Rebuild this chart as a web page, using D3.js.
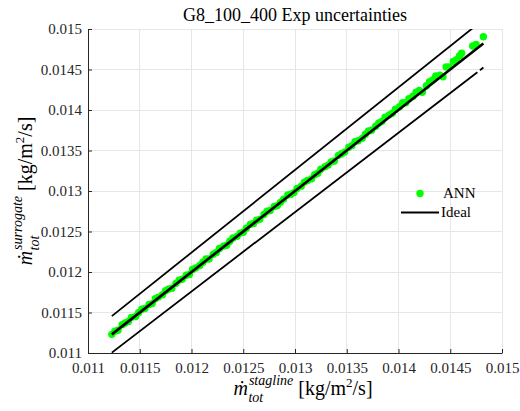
<!DOCTYPE html>
<html>
<head>
<meta charset="utf-8">
<script src="https://cdn.jsdelivr.net/npm/d3@7"></script>
</head>
<body style="margin:0">
<svg id="chart" width="520" height="411" font-family="Liberation Serif"></svg>
<script>
// Mass-flux comparison: stagnation-line reference vs. ANN surrogate (kg/m^2/s)
const chartTitle = "G8_100_400 Exp uncertainties";

const staglineValues = [
  0.01123, 0.01126, 0.01129, 0.01133, 0.01136, 0.01139, 0.01142, 0.01146, 0.01149, 0.01152,
  0.01155, 0.01159, 0.01162, 0.01165, 0.01168, 0.01172, 0.01175, 0.01178, 0.01181, 0.01185,
  0.01188, 0.01191, 0.01195, 0.01198, 0.01201, 0.01204, 0.01208, 0.01211, 0.01214, 0.01217,
  0.01221, 0.01224, 0.01227, 0.01231, 0.01234, 0.01237, 0.01240, 0.01244, 0.01247, 0.01250,
  0.01253, 0.01257, 0.01260, 0.01263, 0.01266, 0.01270, 0.01273, 0.01276, 0.01280, 0.01283,
  0.01286, 0.01289, 0.01293, 0.01296, 0.01299, 0.01302, 0.01306, 0.01309, 0.01312, 0.01316,
  0.01319, 0.01322, 0.01325, 0.01329, 0.01332, 0.01335, 0.01338, 0.01342, 0.01345, 0.01348,
  0.01352, 0.01355, 0.01358, 0.01361, 0.01365, 0.01368, 0.01371, 0.01374, 0.01378, 0.01381,
  0.01384, 0.01387, 0.01391, 0.01394, 0.01397, 0.01401, 0.01404, 0.01407, 0.01410, 0.01414,
  0.01417, 0.01420, 0.01423, 0.01427, 0.01430, 0.01433, 0.01436, 0.01440, 0.01443, 0.01446,
  0.01449, 0.01453, 0.01456, 0.01459, 0.01461, 0.014717, 0.01475, 0.01482
];

const surrogateValues = [
  0.01123, 0.01127, 0.01128, 0.01135, 0.01137, 0.01139, 0.01144, 0.01145, 0.01150, 0.01154,
  0.01155, 0.01160, 0.01161, 0.01167, 0.01169, 0.01172, 0.01177, 0.01179, 0.01180, 0.01186,
  0.01190, 0.01191, 0.01196, 0.01197, 0.01203, 0.01205, 0.01208, 0.01212, 0.01216, 0.01216,
  0.01222, 0.01224, 0.01229, 0.01232, 0.01233, 0.01238, 0.01242, 0.01244, 0.01248, 0.01249,
  0.01254, 0.01259, 0.01260, 0.01264, 0.01265, 0.01271, 0.01275, 0.01276, 0.01281, 0.01282,
  0.01286, 0.01290, 0.01295, 0.01296, 0.01298, 0.01303, 0.01306, 0.01311, 0.01313, 0.01315,
  0.01320, 0.01322, 0.01327, 0.01330, 0.01332, 0.01336, 0.01337, 0.01344, 0.01346, 0.01348,
  0.01354, 0.01356, 0.01361, 0.01362, 0.01365, 0.01370, 0.01374, 0.01375, 0.01380, 0.01384,
  0.01386, 0.01391, 0.01394, 0.01396, 0.01401, 0.01404, 0.01409, 0.01409, 0.01414, 0.01417,
  0.01422, 0.01424, 0.01422, 0.01430, 0.01435, 0.01437, 0.01442, 0.01443, 0.01441, 0.01453,
  0.01453, 0.01460, 0.01462, 0.01467, 0.01470, 0.01479, 0.01481, 0.014905
];

// Reference lines: ideal y = x and the +/-2 % band
const idealX = [0.01123, 0.01482];
const idealY = [0.01123, 0.01482];
const upperX = [0.01123, 0.01482];
const upperY = [0.011455, 0.015116];
const lowerX = [0.01123, 0.014762, 0.014787, 0.01482];
const lowerY = [0.011005, 0.014467, 0.014491, 0.014524];
const lowerSegmentBreaks = [2]; // index where the lower band line is split

const xTicks = [0.011, 0.0115, 0.012, 0.0125, 0.013, 0.0135, 0.014, 0.0145, 0.015];
const xTickLabels = ["0.011", "0.0115", "0.012", "0.0125", "0.013", "0.0135", "0.014", "0.0145", "0.015"];
const yTicks = [0.011, 0.0115, 0.012, 0.0125, 0.013, 0.0135, 0.014, 0.0145, 0.015];
const yTickLabels = ["0.011", "0.0115", "0.012", "0.0125", "0.013", "0.0135", "0.014", "0.0145", "0.015"];

const legendLabels = ["ANN", "Ideal"];

const FONT = "Liberation Serif";
const svg = d3.select("#chart");
const plot = { left: 88, right: 502, top: 29, bottom: 353 };

const x = d3.scaleLinear().domain([0.011, 0.015]).range([plot.left, plot.right]);
const y = d3.scaleLinear().domain([0.011, 0.015]).range([plot.bottom, plot.top]);

const green = "#00ff00";
const axisColor = "#262626";
const gridColor = "#e6e6e6";

svg.append("defs").append("clipPath").attr("id", "plotClip")
  .append("rect")
  .attr("x", plot.left).attr("y", plot.top)
  .attr("width", plot.right - plot.left).attr("height", plot.bottom - plot.top);

// Grid
const grid = svg.append("g");
grid.selectAll("line.gx").data(xTicks.slice(1)).join("line")
  .attr("x1", d => x(d)).attr("x2", d => x(d))
  .attr("y1", plot.top).attr("y2", plot.bottom)
  .attr("stroke", gridColor).attr("stroke-width", 1).attr("shape-rendering", "crispEdges");
grid.selectAll("line.gy").data(yTicks.slice(1)).join("line")
  .attr("y1", d => y(d)).attr("y2", d => y(d))
  .attr("x1", plot.left).attr("x2", plot.right)
  .attr("stroke", gridColor).attr("stroke-width", 1).attr("shape-rendering", "crispEdges");

// Data layer
const layer = svg.append("g").attr("clip-path", "url(#plotClip)");

const points = staglineValues.map((v, i) => [v, surrogateValues[i]]);
layer.selectAll("circle").data(points).join("circle")
  .attr("cx", d => x(d[0])).attr("cy", d => y(d[1]))
  .attr("r", 3.7).attr("fill", green);

const line = d3.line().x(d => x(d[0])).y(d => y(d[1]));

layer.append("path")
  .attr("d", line(upperX.map((v, i) => [v, upperY[i]])))
  .attr("fill", "none").attr("stroke", "#000").attr("stroke-width", 1.8);

const lowerPts = lowerX.map((v, i) => [v, lowerY[i]]);
let start = 0;
[...lowerSegmentBreaks, lowerPts.length].forEach(end => {
  layer.append("path")
    .attr("d", line(lowerPts.slice(start, end)))
    .attr("fill", "none").attr("stroke", "#000").attr("stroke-width", 1.8);
  start = end;
});

layer.append("path")
  .attr("d", line(idealX.map((v, i) => [v, idealY[i]])))
  .attr("fill", "none").attr("stroke", "#000").attr("stroke-width", 2.6);

// Axes (left and bottom only, ticks pointing inward)
const xAxis = d3.axisBottom(x).tickValues(xTicks).tickSizeInner(-4).tickSizeOuter(0)
  .tickFormat((d, i) => xTickLabels[i]);
const gx = svg.append("g").attr("transform", `translate(0,${plot.bottom})`).call(xAxis)
  .attr("font-family", FONT).attr("font-size", 15);
gx.select(".domain").attr("stroke", axisColor).attr("stroke-width", 1);
gx.selectAll(".tick line").attr("stroke", axisColor);
gx.selectAll(".tick text").attr("font-family", FONT).attr("font-size", 15)
  .attr("fill", axisColor).attr("y", 9).attr("dy", "0.71em");

const yAxis = d3.axisLeft(y).tickValues(yTicks).tickSizeInner(-4).tickSizeOuter(0)
  .tickFormat((d, i) => yTickLabels[i]);
const gy = svg.append("g").attr("transform", `translate(${plot.left},0)`).call(yAxis)
  .attr("font-family", FONT).attr("font-size", 15);
gy.select(".domain").attr("stroke", axisColor).attr("stroke-width", 1);
gy.selectAll(".tick line").attr("stroke", axisColor);
gy.selectAll(".tick text").attr("font-family", FONT).attr("font-size", 15)
  .attr("fill", axisColor).attr("x", -6);

// Title
svg.append("text")
  .attr("x", (plot.left + plot.right) / 2).attr("y", 21)
  .attr("text-anchor", "middle").attr("fill", "#000")
  .attr("font-family", FONT).attr("font-size", 18)
  .text(chartTitle);

// Axis label builder: m-dot with stacked super/subscript then units
function massFluxLabel(g, sup) {
  const big = 20, small = 14;
  const t = sel => sel.attr("font-family", FONT).attr("fill", "#000");
  const m = t(g.append("text")).attr("x", 0).attr("y", 0)
    .attr("font-size", big).attr("font-style", "italic").text("ṁ");
  const mw = m.node().getComputedTextLength();
  const s = t(g.append("text")).attr("x", mw + 1).attr("y", -10)
    .attr("font-size", small).attr("font-style", "italic").text(sup);
  const b = t(g.append("text")).attr("x", mw + 0.5).attr("y", 7)
    .attr("font-size", small).attr("font-style", "italic").text("tot");
  const w = Math.max(s.node().getComputedTextLength(), b.node().getComputedTextLength());
  const u = t(g.append("text")).attr("x", mw + w + 6).attr("y", 0)
    .attr("font-size", big);
  u.append("tspan").text("[kg/m");
  u.append("tspan").attr("font-size", 13).attr("dy", -8).text("2");
  u.append("tspan").attr("dy", 8).text("/s]");
  return mw + w + 6 + u.node().getComputedTextLength();
}

const xl = svg.append("g");
const xw = massFluxLabel(xl, "stagline");
xl.attr("transform", `translate(${(plot.left + plot.right) / 2 - xw / 2 + 8},395)`);

const yl = svg.append("g");
const yw = massFluxLabel(yl, "surrogate");
yl.attr("transform", `translate(32,${(plot.top + plot.bottom) / 2 + yw / 2}) rotate(-90)`);

// Legend (no frame)
const lg = svg.append("g");
lg.append("circle").attr("cx", 420).attr("cy", 193.5).attr("r", 3.7).attr("fill", green);
lg.append("text").attr("x", 443).attr("y", 198).attr("fill", "#000")
  .attr("font-family", FONT).attr("font-size", 15).text(legendLabels[0]);
lg.append("line").attr("x1", 401).attr("x2", 439).attr("y1", 212.5).attr("y2", 212.5)
  .attr("stroke", "#000").attr("stroke-width", 2);
lg.append("text").attr("x", 441).attr("y", 217).attr("fill", "#000")
  .attr("font-family", FONT).attr("font-size", 15).text(legendLabels[1]);
</script>
</body>
</html>
